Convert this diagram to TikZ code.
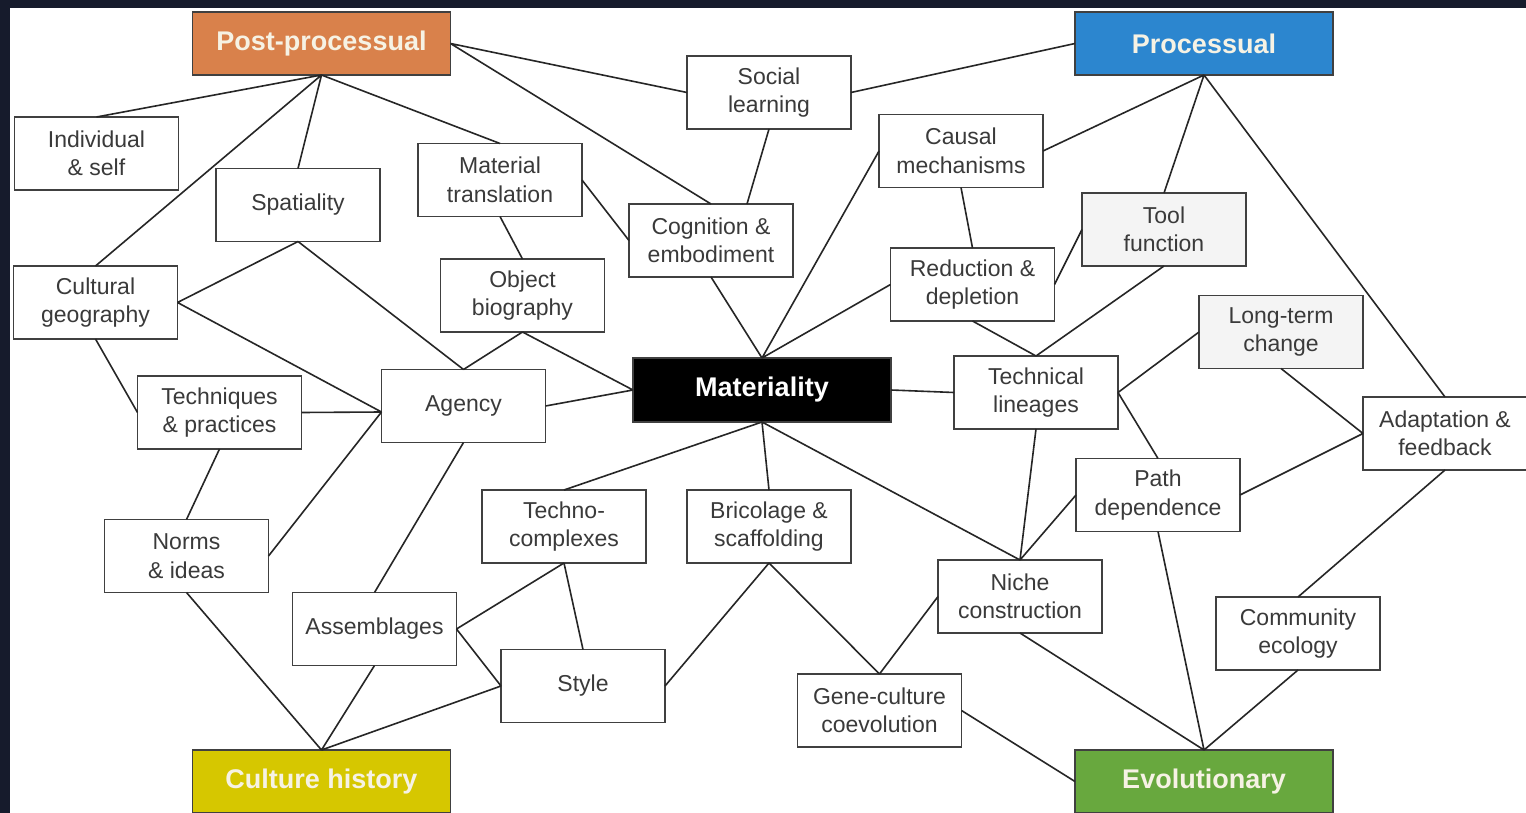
\documentclass[tikz,border=0pt]{standalone}
\usepackage{fontspec}
\setmainfont{Liberation Sans}
\definecolor{navy}{HTML}{161B2C}
\definecolor{boxline}{HTML}{404040}
\definecolor{boxtext}{HTML}{3A3A3A}
\definecolor{pporange}{HTML}{D9814B}
\definecolor{procblue}{HTML}{2C86CF}
\definecolor{chyellow}{HTML}{D6C700}
\definecolor{evogreen}{HTML}{68A83E}
\definecolor{headtext}{HTML}{F6F2E4}
\definecolor{lightfill}{HTML}{F4F4F4}
\tikzset{
  topic/.style={draw=boxline, line width=1.8pt, fill=white, minimum width=164pt, minimum height=73pt,
    inner sep=0pt, outer sep=0pt, align=center, text=boxtext,
    font=\fontsize{23}{28.5}\selectfont},
  header/.style={draw=boxline, line width=1.8pt, minimum width=258pt, minimum height=63pt,
    inner sep=0pt, outer sep=0pt, align=center, text=headtext,
    font=\fontsize{27}{32}\selectfont\bfseries},
  link/.style={draw=black!85, line width=1.6pt}
}
\begin{document}
\begin{tikzpicture}[x=1pt,y=-1pt]
\useasboundingbox (0,0) rectangle (1526,813);
\fill[navy] (0,0) rectangle (1526,813);
\fill[white] (10,8) rectangle (1530,820);

% headers
\node[header, fill=pporange] (pp) at (321.5,43.5) {Post-processual};
\node[header, fill=procblue] (proc) at (1204,43.5) {Processual};
\node[header, fill=chyellow] (ch) at (321.5,781.5) {Culture history};
\node[header, fill=evogreen] (evo) at (1204,781.5) {Evolutionary};
\node[header, fill=black, text=white, minimum height=64pt] (mat) at (762,390) {Materiality};

% topics
\node[topic] (ind) at (96.5,153.5) {Individual\\\& self};
\node[topic] (spa) at (298,205) {Spatiality};
\node[topic] (mtr) at (500,180) {Material\\translation};
\node[topic] (sl) at (769,92.5) {Social\\learning};
\node[topic] (cog) at (711,240.5) {Cognition \&\\embodiment};
\node[topic] (cau) at (961,151) {Causal\\mechanisms};
\node[topic, fill=lightfill] (tool) at (1164,229.5) {Tool\\function};
\node[topic] (red) at (972.5,284.5) {Reduction \&\\depletion};
\node[topic] (cg) at (95.5,302.5) {Cultural\\geography};
\node[topic] (ob) at (522.5,295.5) {Object\\biography};
\node[topic, fill=lightfill] (ltc) at (1281,332) {Long-term\\change};
\node[topic] (tp) at (219.5,412.5) {Techniques\\\& practices};
\node[topic] (ag) at (463.5,406) {Agency};
\node[topic] (tl) at (1036,392.5) {Technical\\lineages};
\node[topic] (ada) at (1445,433.5) {Adaptation \&\\feedback};
\node[topic] (pd) at (1158,495) {Path\\dependence};
\node[topic] (tc) at (564,526.5) {Techno-\\complexes};
\node[topic] (bs) at (769,526.5) {Bricolage \&\\scaffolding};
\node[topic] (ni) at (186.5,556) {Norms\\\& ideas};
\node[topic] (nc) at (1020,596.5) {Niche\\construction};
\node[topic] (ce) at (1298,633.5) {Community\\ecology};
\node[topic] (as) at (374.5,629) {Assemblages};
\node[topic] (sty) at (583,686) {Style};
\node[topic] (gc) at (879.5,710.5) {Gene-culture\\coevolution};

\coordinate (agin) at ([yshift=-6pt]ag.west);

% connectors
\begin{scope}[on background layer/.style={}]
\path[link]
  (pp.east) -- (sl.west)
  (pp.east) -- (cog.north)
  (pp.south) -- (ind.north)
  (pp.south) -- (cg.north)
  (pp.south) -- (spa.north)
  (pp.south) -- (mtr.north)
  (proc.west) -- (sl.east)
  (proc.south) -- (cau.east)
  (proc.south) -- (tool.north)
  (proc.south) -- (ada.north)
  (sl.south) -- ([xshift=36pt]cog.north)
  (mtr.east) -- (cog.west)
  (mtr.south) -- (ob.north)
  (cog.south) -- (mat.north)
  (cau.west) -- (mat.north)
  (cau.south) -- (red.north)
  (red.west) -- (mat.north)
  (red.east) -- (tool.west)
  (red.south) -- (tl.north)
  (tool.south) -- (tl.north)
  (spa.south) -- (cg.east)
  (spa.south) -- (ag.north)
  (ob.south) -- (ag.north)
  (ob.south) -- (mat.west)
  (cg.east) -- (agin)
  (cg.south) -- (tp.west)
  (tp.east) -- (agin)
  (tp.south) -- (ni.north)
  (ni.east) -- (agin)
  (ag.east) -- (mat.west)
  (ag.south) -- (as.north)
  (mat.east) -- (tl.west)
  (tl.east) -- (ltc.west)
  (tl.east) -- (pd.north)
  (tl.south) -- (nc.north)
  (ltc.south) -- (ada.west)
  (pd.east) -- (ada.west)
  (ada.south) -- (ce.north)
  (mat.south) -- (tc.north)
  (mat.south) -- (bs.north)
  (mat.south) -- (nc.north)
  (pd.west) -- (nc.north)
  (pd.south) -- (evo.north)
  (nc.south) -- (evo.north)
  (ce.south) -- (evo.north)
  (nc.west) -- (gc.north)
  (bs.south) -- (gc.north)
  (bs.south) -- (sty.east)
  (gc.east) -- (evo.west)
  (tc.south) -- (as.east)
  (tc.south) -- (sty.north)
  (as.east) -- (sty.west)
  (as.south) -- (ch.north)
  (ni.south) -- (ch.north)
  (sty.west) -- (ch.north);
\end{scope}
\end{tikzpicture}
\end{document}
